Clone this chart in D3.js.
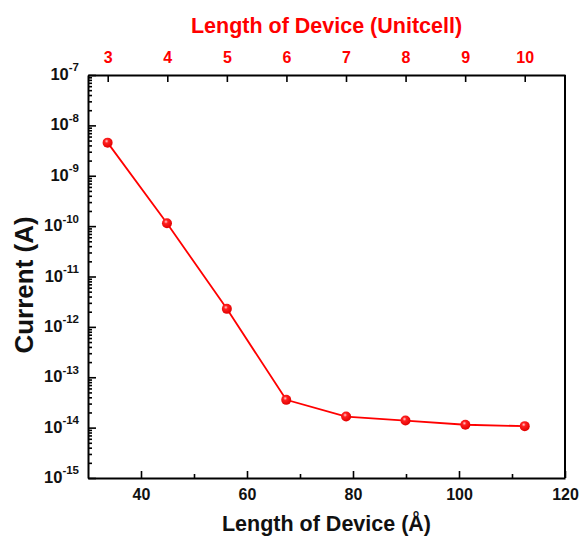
<!DOCTYPE html>
<html>
<head>
<meta charset="utf-8">
<script src="https://cdn.jsdelivr.net/npm/d3@7"></script>
<style>
  html, body { margin: 0; padding: 0; background: #fff; }
  svg { display: block; font-family: "Liberation Sans", Arial, sans-serif; }
</style>
</head>
<body>
<svg id="chart" width="581" height="536"></svg>
<script>
// Device length in unit cells and in ångström, with the computed current
const unitcells = [3, 4, 5, 6, 7, 8, 9, 10];
const lengthsA = [33.7, 44.9, 56.2, 67.4, 78.7, 89.9, 101.2, 112.4];
const currents = [4.54e-9, 1.14e-10, 2.28e-12, 3.56e-14, 1.66e-14, 1.38e-14, 1.14e-14, 1.07e-14];

// Axis ticks
const bottomTicks = [40, 60, 80, 100, 120];
const bottomMinor = [50, 70, 90, 110];
const topTicks = [3, 4, 5, 6, 7, 8, 9, 10];
const yExponents = [-7, -8, -9, -10, -11, -12, -13, -14, -15];

const angstromPerCell = 11.24;

const svg = d3.select("#chart");
const frame = { left: 88, right: 565, top: 75, bottom: 478 };
const red = "#ff0000";

const x = d3.scaleLinear().domain([30, 120]).range([frame.left, frame.right]);
const xTop = d3.scaleLinear().domain([30 / angstromPerCell, 120 / angstromPerCell]).range([frame.left, frame.right]);
const y = d3.scaleLog().domain([1e-15, 1e-7]).range([frame.bottom, frame.top]);

// Minor log ticks (2..9 of each decade)
const yMinor = [];
for (let e = -15; e < -7; e++) for (let m = 2; m <= 9; m++) yMinor.push(m * Math.pow(10, e));

const g = svg.append("g");

// Bottom axis
const bottomAxis = d3.axisBottom(x).tickValues(bottomTicks).tickSizeInner(-7).tickSizeOuter(0).tickPadding(11).tickFormat(d3.format("d"));
const gb = g.append("g").attr("transform", `translate(0,${frame.bottom})`).call(bottomAxis);
gb.selectAll(".tick text").attr("font-size", 16).attr("font-weight", "bold").attr("fill", "#111");
g.append("g").attr("transform", `translate(0,${frame.bottom})`)
  .call(d3.axisBottom(x).tickValues(bottomMinor).tickSizeInner(-4).tickSizeOuter(0).tickFormat(""))
  .call(s => s.select(".domain").remove());

// Top axis (unit cells)
const topAxis = d3.axisTop(xTop).tickValues(topTicks).tickSizeInner(-7).tickSizeOuter(0).tickPadding(12).tickFormat(d3.format("d"));
const gt = g.append("g").attr("transform", `translate(0,${frame.top})`).call(topAxis);
gt.selectAll(".tick text").attr("font-size", 16).attr("font-weight", "bold").attr("fill", red);

// Left axis (log)
const leftAxis = d3.axisLeft(y).tickValues(yExponents.map(e => Math.pow(10, e))).tickSizeInner(-8).tickSizeOuter(0).tickFormat("");
const gl = g.append("g").attr("transform", `translate(${frame.left},0)`).call(leftAxis);
gl.selectAll(".tick").each(function (d) {
  const t = d3.select(this).append("text")
    .attr("x", -9).attr("dy", "0.45em")
    .attr("text-anchor", "end")
    .attr("font-weight", "bold").attr("fill", "#111");
  t.append("tspan").attr("font-size", 16.5).text("10");
  t.append("tspan").attr("font-size", 11.5).attr("dy", "-0.75em").text(Math.round(Math.log10(d)));
});
g.append("g").attr("transform", `translate(${frame.left},0)`)
  .call(d3.axisLeft(y).tickValues(yMinor).tickSizeInner(-4).tickSizeOuter(0).tickFormat(""))
  .call(s => s.select(".domain").remove());

// Right border
g.append("line").attr("x1", frame.right).attr("x2", frame.right).attr("y1", frame.top).attr("y2", frame.bottom);

g.selectAll(".domain, .tick line, line").attr("stroke", "#000").attr("stroke-width", 2);
g.selectAll(".tick line").attr("stroke-width", 1.6);

// Axis titles
svg.append("text").attr("x", (frame.left + frame.right) / 2).attr("y", 531)
  .attr("text-anchor", "middle").attr("font-size", 21.5).attr("font-weight", "bold").attr("fill", "#111")
  .text("Length of Device (Å)");
svg.append("text").attr("x", (frame.left + frame.right) / 2).attr("y", 33)
  .attr("text-anchor", "middle").attr("font-size", 21.5).attr("font-weight", "bold").attr("fill", red)
  .text("Length of Device (Unitcell)");
svg.append("text").attr("transform", `translate(33,285) rotate(-90)`)
  .attr("text-anchor", "middle").attr("font-size", 26).attr("font-weight", "bold").attr("fill", "#111")
  .text("Current (A)");

// Sphere-shaded marker
const defs = svg.append("defs");
const grad = defs.append("radialGradient").attr("id", "ball").attr("cx", "40%").attr("cy", "35%").attr("r", "65%");
grad.append("stop").attr("offset", "0%").attr("stop-color", "#ffd0d0");
grad.append("stop").attr("offset", "30%").attr("stop-color", "#ff2020");
grad.append("stop").attr("offset", "100%").attr("stop-color", "#e00000");

const pts = lengthsA.map((L, i) => ({ L, I: currents[i] }));
svg.append("path").datum(pts)
  .attr("fill", "none").attr("stroke", red).attr("stroke-width", 1.8)
  .attr("d", d3.line().x(d => x(d.L)).y(d => y(d.I)));
svg.selectAll("circle.pt").data(pts).enter().append("circle")
  .attr("class", "pt")
  .attr("cx", d => x(d.L)).attr("cy", d => y(d.I)).attr("r", 5)
  .attr("fill", "url(#ball)");
</script>
</body>
</html>
